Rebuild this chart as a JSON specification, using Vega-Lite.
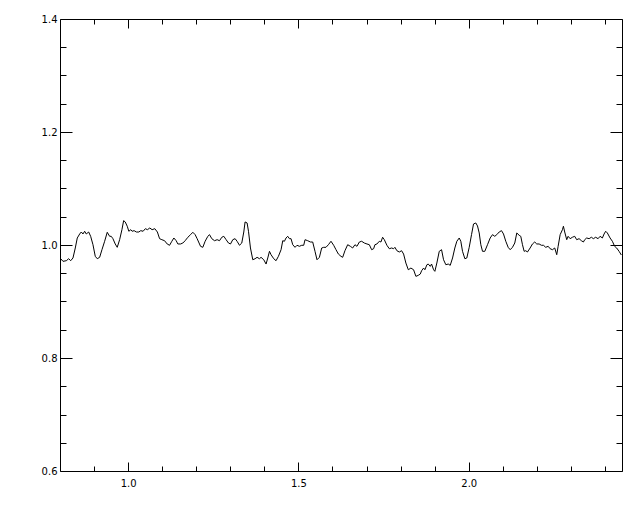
{
  "$schema": "https://vega.github.io/schema/vega-lite/v6.json",
  "width": 562,
  "height": 452,
  "autosize": "none",
  "padding": {"left": 60, "top": 19, "right": 18, "bottom": 41},
  "background": "white",
  "config": {
    "view": {"stroke": null},
    "axis": {
      "domainColor": "black",
      "domainWidth": 1,
      "tickColor": "black",
      "tickWidth": 1,
      "labelColor": "black",
      "labelFont": "DejaVu Sans",
      "labelFontSize": 10,
      "grid": false,
      "title": null,
      "labelFlush": false,
      "labelOverlap": false
    }
  },
  "data": {"values": [
    {"x":0.8,"y":0.9757},{"x":0.8021,"y":0.9757},{"x":0.8088,"y":0.9711},{"x":0.8185,"y":0.9722},{"x":0.8255,"y":0.9757},{"x":0.8314,"y":0.9722},{"x":0.8381,"y":0.9770},{"x":0.8449,"y":0.9947},{"x":0.8507,"y":1.0124},{"x":0.8578,"y":1.0195},{"x":0.8625,"y":1.0230},{"x":0.8674,"y":1.0195},{"x":0.8724,"y":1.0243},{"x":0.8771,"y":1.0195},{"x":0.8842,"y":1.0230},{"x":0.8900,"y":1.0154},{"x":0.8968,"y":1.0005},{"x":0.9035,"y":0.9800},{"x":0.9094,"y":0.9757},{"x":0.9164,"y":0.9782},{"x":0.9232,"y":0.9917},{"x":0.9311,"y":1.0066},{"x":0.9387,"y":1.0225},{"x":0.9457,"y":1.0154},{"x":0.9504,"y":1.0154},{"x":0.9554,"y":1.0112},{"x":0.9622,"y":1.0018},{"x":0.9680,"y":0.9959},{"x":0.9751,"y":1.0094},{"x":0.9818,"y":1.0271},{"x":0.9868,"y":1.0431},{"x":0.9915,"y":1.0408},{"x":0.9974,"y":1.0332},{"x":1.0021,"y":1.0243},{"x":1.0079,"y":1.0271},{"x":1.0117,"y":1.0243},{"x":1.0176,"y":1.0254},{"x":1.0243,"y":1.0230},{"x":1.0314,"y":1.0230},{"x":1.0372,"y":1.0254},{"x":1.0440,"y":1.0243},{"x":1.0507,"y":1.0289},{"x":1.0566,"y":1.0271},{"x":1.0636,"y":1.0301},{"x":1.0704,"y":1.0271},{"x":1.0783,"y":1.0289},{"x":1.0859,"y":1.0230},{"x":1.0924,"y":1.0112},{"x":1.0991,"y":1.0094},{"x":1.1070,"y":1.0076},{"x":1.1147,"y":1.0018},{"x":1.1217,"y":0.9995},{"x":1.1284,"y":1.0066},{"x":1.1343,"y":1.0124},{"x":1.1411,"y":1.0076},{"x":1.1460,"y":1.0018},{"x":1.1540,"y":1.0018},{"x":1.1607,"y":1.0035},{"x":1.1674,"y":1.0076},{"x":1.1754,"y":1.0137},{"x":1.1833,"y":1.0183},{"x":1.1900,"y":1.0225},{"x":1.1968,"y":1.0183},{"x":1.2026,"y":1.0112},{"x":1.2126,"y":0.9977},{"x":1.2193,"y":0.9959},{"x":1.2261,"y":1.0066},{"x":1.2340,"y":1.0154},{"x":1.2390,"y":1.0183},{"x":1.2457,"y":1.0112},{"x":1.2537,"y":1.0076},{"x":1.2613,"y":1.0094},{"x":1.2683,"y":1.0076},{"x":1.2751,"y":1.0137},{"x":1.2809,"y":1.0154},{"x":1.2877,"y":1.0094},{"x":1.2947,"y":1.0035},{"x":1.3006,"y":1.0018},{"x":1.3073,"y":1.0094},{"x":1.3141,"y":1.0112},{"x":1.3199,"y":1.0066},{"x":1.3270,"y":0.9995},{"x":1.3337,"y":1.0035},{"x":1.3396,"y":1.0230},{"x":1.3434,"y":1.0408},{"x":1.3493,"y":1.0390},{"x":1.3534,"y":1.0243},{"x":1.3592,"y":0.9947},{"x":1.3660,"y":0.9739},{"x":1.3727,"y":0.9757},{"x":1.3786,"y":0.9782},{"x":1.3856,"y":0.9757},{"x":1.3903,"y":0.9782},{"x":1.3982,"y":0.9739},{"x":1.4050,"y":0.9663},{"x":1.4100,"y":0.9770},{"x":1.4150,"y":0.9888},{"x":1.4196,"y":0.9828},{"x":1.4276,"y":0.9757},{"x":1.4343,"y":0.9722},{"x":1.4413,"y":0.9800},{"x":1.4490,"y":0.9917},{"x":1.4540,"y":1.0076},{"x":1.4589,"y":1.0066},{"x":1.4636,"y":1.0124},{"x":1.4686,"y":1.0154},{"x":1.4736,"y":1.0112},{"x":1.4783,"y":1.0112},{"x":1.4833,"y":1.0005},{"x":1.4900,"y":0.9959},{"x":1.4959,"y":0.9995},{"x":1.5029,"y":0.9977},{"x":1.5097,"y":0.9995},{"x":1.5155,"y":0.9995},{"x":1.5194,"y":1.0094},{"x":1.5273,"y":1.0076},{"x":1.5352,"y":1.0053},{"x":1.5419,"y":1.0053},{"x":1.5487,"y":0.9888},{"x":1.5545,"y":0.9739},{"x":1.5616,"y":0.9782},{"x":1.5683,"y":0.9947},{"x":1.5742,"y":0.9959},{"x":1.5809,"y":0.9959},{"x":1.5880,"y":1.0005},{"x":1.5956,"y":1.0066},{"x":1.6035,"y":0.9995},{"x":1.6103,"y":0.9917},{"x":1.6173,"y":0.9840},{"x":1.6249,"y":0.9800},{"x":1.6299,"y":0.9782},{"x":1.6366,"y":0.9899},{"x":1.6446,"y":1.0005},{"x":1.6525,"y":0.9977},{"x":1.6592,"y":0.9947},{"x":1.6660,"y":1.0005},{"x":1.6718,"y":0.9977},{"x":1.6789,"y":1.0053},{"x":1.6856,"y":1.0066},{"x":1.6935,"y":1.0035},{"x":1.7012,"y":1.0018},{"x":1.7082,"y":1.0005},{"x":1.7150,"y":0.9917},{"x":1.7208,"y":0.9934},{"x":1.7246,"y":1.0005},{"x":1.7305,"y":1.0018},{"x":1.7375,"y":1.0066},{"x":1.7422,"y":1.0053},{"x":1.7472,"y":1.0137},{"x":1.7522,"y":1.0094},{"x":1.7598,"y":0.9995},{"x":1.7668,"y":0.9934},{"x":1.7736,"y":0.9947},{"x":1.7795,"y":0.9934},{"x":1.7833,"y":0.9959},{"x":1.7891,"y":0.9899},{"x":1.7962,"y":0.9876},{"x":1.8029,"y":0.9899},{"x":1.8088,"y":0.9840},{"x":1.8155,"y":0.9681},{"x":1.8226,"y":0.9562},{"x":1.8302,"y":0.9592},{"x":1.8381,"y":0.9562},{"x":1.8449,"y":0.9445},{"x":1.8519,"y":0.9463},{"x":1.8578,"y":0.9486},{"x":1.8616,"y":0.9544},{"x":1.8675,"y":0.9592},{"x":1.8713,"y":0.9562},{"x":1.8772,"y":0.9651},{"x":1.8812,"y":0.9663},{"x":1.8871,"y":0.9622},{"x":1.8909,"y":0.9663},{"x":1.8968,"y":0.9562},{"x":1.9006,"y":0.9534},{"x":1.9064,"y":0.9681},{"x":1.9135,"y":0.9888},{"x":1.9202,"y":0.9917},{"x":1.9261,"y":0.9739},{"x":1.9328,"y":0.9651},{"x":1.9399,"y":0.9663},{"x":1.9457,"y":0.9640},{"x":1.9525,"y":0.9770},{"x":1.9592,"y":0.9947},{"x":1.9651,"y":1.0066},{"x":1.9721,"y":1.0124},{"x":1.9768,"y":1.0066},{"x":1.9818,"y":0.9888},{"x":1.9886,"y":0.9757},{"x":1.9944,"y":0.9770},{"x":2.0014,"y":0.9959},{"x":2.0082,"y":1.0183},{"x":2.0141,"y":1.0372},{"x":2.0208,"y":1.0390},{"x":2.0258,"y":1.0337},{"x":2.0308,"y":1.0213},{"x":2.0355,"y":1.0005},{"x":2.0405,"y":0.9888},{"x":2.0472,"y":0.9888},{"x":2.0551,"y":1.0005},{"x":2.0630,"y":1.0124},{"x":2.0698,"y":1.0183},{"x":2.0765,"y":1.0154},{"x":2.0824,"y":1.0183},{"x":2.0894,"y":1.0230},{"x":2.0962,"y":1.0254},{"x":2.1021,"y":1.0195},{"x":2.1088,"y":1.0066},{"x":2.1158,"y":0.9959},{"x":2.1217,"y":0.9917},{"x":2.1284,"y":0.9959},{"x":2.1352,"y":1.0035},{"x":2.1411,"y":1.0213},{"x":2.1481,"y":1.0172},{"x":2.1528,"y":1.0154},{"x":2.1578,"y":1.0005},{"x":2.1627,"y":0.9888},{"x":2.1674,"y":0.9899},{"x":2.1724,"y":0.9876},{"x":2.1803,"y":0.9947},{"x":2.1871,"y":1.0018},{"x":2.1938,"y":1.0053},{"x":2.1997,"y":1.0018},{"x":2.2067,"y":1.0018},{"x":2.2135,"y":0.9995},{"x":2.2194,"y":0.9995},{"x":2.2261,"y":0.9959},{"x":2.2332,"y":0.9977},{"x":2.2390,"y":0.9934},{"x":2.2458,"y":0.9917},{"x":2.2525,"y":0.9947},{"x":2.2584,"y":0.9828},{"x":2.2625,"y":0.9977},{"x":2.2684,"y":1.0183},{"x":2.2751,"y":1.0271},{"x":2.2780,"y":1.0332},{"x":2.2818,"y":1.0230},{"x":2.2877,"y":1.0094},{"x":2.2918,"y":1.0154},{"x":2.2977,"y":1.0112},{"x":2.3044,"y":1.0137},{"x":2.3111,"y":1.0154},{"x":2.3170,"y":1.0094},{"x":2.3240,"y":1.0112},{"x":2.3308,"y":1.0076},{"x":2.3367,"y":1.0053},{"x":2.3405,"y":1.0094},{"x":2.3463,"y":1.0124},{"x":2.3534,"y":1.0112},{"x":2.3601,"y":1.0137},{"x":2.3660,"y":1.0112},{"x":2.3727,"y":1.0137},{"x":2.3798,"y":1.0112},{"x":2.3856,"y":1.0154},{"x":2.3924,"y":1.0124},{"x":2.3974,"y":1.0195},{"x":2.4021,"y":1.0243},{"x":2.4070,"y":1.0213},{"x":2.4150,"y":1.0124},{"x":2.4217,"y":1.0066},{"x":2.4284,"y":0.9977},{"x":2.4343,"y":0.9947},{"x":2.4414,"y":0.9888},{"x":2.4481,"y":0.9823}
  ]},
  "layer": [
    {
      "mark": {"type": "line", "color": "black", "strokeWidth": 1, "clip": true},
      "encoding": {
        "x": {"field": "x", "type": "quantitative",
          "scale": {"domain": [0.8, 2.45], "nice": false, "zero": false},
          "axis": {"orient": "bottom",
            "values": [0.9,1.0,1.1,1.2,1.3,1.4,1.5,1.6,1.7,1.8,1.9,2.0,2.1,2.2,2.3,2.4],
            "tickSize": {"condition": {"test": "abs(datum.value*2 - round(datum.value*2)) < 0.001", "value": -9}, "value": -5},
            "labelExpr": "abs(datum.value*2 - round(datum.value*2)) < 0.001 ? format(datum.value, '.1f') : ''",
            "labelPadding": 16,
            "labelBaseline": "top"}},
        "y": {"field": "y", "type": "quantitative",
          "scale": {"domain": [0.6, 1.4], "nice": false, "zero": false},
          "axis": {"orient": "left",
            "values": [0.6,0.65,0.7,0.75,0.8,0.85,0.9,0.95,1.0,1.05,1.1,1.15,1.2,1.25,1.3,1.35,1.4],
            "tickSize": {"condition": {"test": "abs(datum.value*5 - round(datum.value*5)) < 0.001", "value": -12}, "value": -6},
            "labelExpr": "abs(datum.value*5 - round(datum.value*5)) < 0.001 ? format(datum.value, '.1f') : ''",
            "labelPadding": 15,
            "labelBaseline": "middle"}}
      }
    },
    {
      "mark": {"type": "line", "color": "black", "strokeWidth": 1, "opacity": 0},
      "encoding": {
        "x": {"field": "x", "type": "quantitative",
          "scale": {"domain": [0.8, 2.45], "nice": false, "zero": false},
          "axis": {"orient": "top",
            "values": [0.9,1.0,1.1,1.2,1.3,1.4,1.5,1.6,1.7,1.8,1.9,2.0,2.1,2.2,2.3,2.4],
            "tickSize": {"condition": {"test": "abs(datum.value*2 - round(datum.value*2)) < 0.001", "value": -9}, "value": -5},
            "labels": false}},
        "y": {"field": "y", "type": "quantitative",
          "scale": {"domain": [0.6, 1.4], "nice": false, "zero": false},
          "axis": {"orient": "right",
            "values": [0.6,0.65,0.7,0.75,0.8,0.85,0.9,0.95,1.0,1.05,1.1,1.15,1.2,1.25,1.3,1.35,1.4],
            "tickSize": {"condition": {"test": "abs(datum.value*5 - round(datum.value*5)) < 0.001", "value": -12}, "value": -6},
            "labels": false}}
      }
    }
  ],
  "resolve": {"axis": {"x": "independent", "y": "independent"}}
}
